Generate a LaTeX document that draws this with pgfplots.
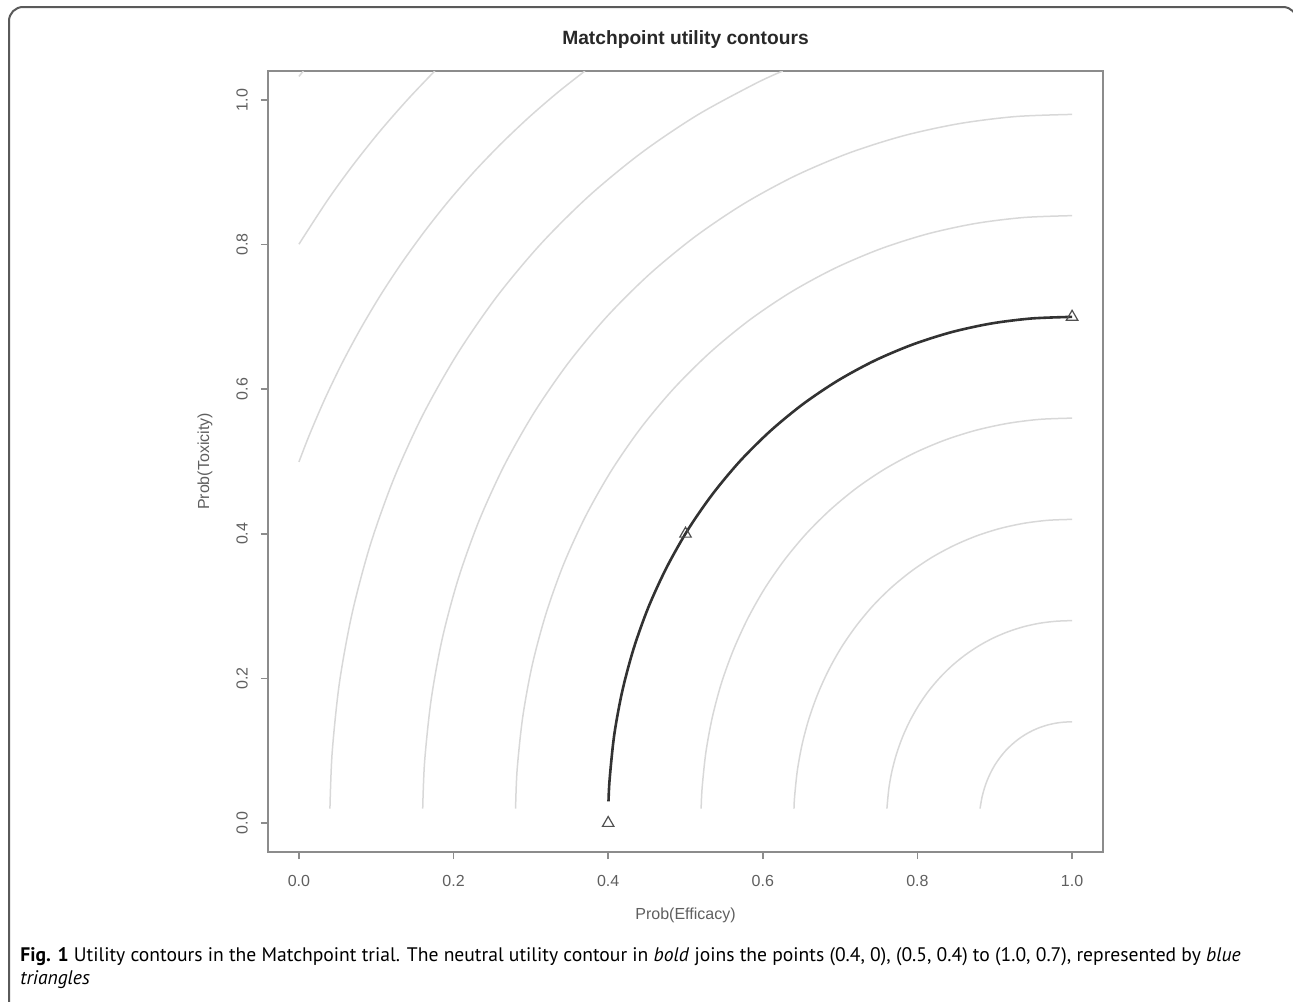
\documentclass[border=0pt]{standalone}
\usepackage{fontspec}
\setmainfont{Liberation Sans}
\newfontfamily\capfont{PT Sans}
\usepackage{pgfplots}
\pgfplotsset{compat=1.18}

\definecolor{contourgray}{RGB}{216,216,216}
\definecolor{boldline}{RGB}{50,50,50}
\definecolor{axisgray}{RGB}{140,140,140}
\definecolor{labelgray}{RGB}{95,95,95}
\definecolor{framegray}{RGB}{90,90,90}

\pgfplotsset{
  contour/.style={contourgray, line width=0.75pt, smooth, no marks},
}

\begin{document}
\begin{tikzpicture}[x=0.5pt,y=-0.5pt]
\useasboundingbox (0,0) rectangle (1293,1001);
% figure frame (open on the right and bottom)
\draw[framegray, line width=1pt, rounded corners=7pt] (9,1010) -- (9,7) -- (1297,7) -- (1297,1010);

\begin{axis}[
  at={(134pt,-426pt)}, anchor=south west,
  scale only axis, width=417.5pt, height=390.5pt,
  xmin=-0.04, xmax=1.04, ymin=-0.04, ymax=1.04,
  axis line style={axisgray, line width=0.9pt},
  tick style={axisgray, line width=0.8pt},
  tick align=outside, major tick length=3.6pt,
  xtick={0,0.2,0.4,0.6,0.8,1.0}, ytick={0,0.2,0.4,0.6,0.8,1.0},
  xtick pos=left, ytick pos=left,
  xticklabel shift=4.5pt, yticklabel shift=3pt,
  /pgf/number format/assume math mode=true,
  x tick label style={/pgf/number format/fixed, /pgf/number format/fixed zerofill,
    /pgf/number format/precision=1, font=\fontsize{8}{9.6}\selectfont, text=labelgray},
  y tick label style={/pgf/number format/fixed, /pgf/number format/fixed zerofill,
    /pgf/number format/precision=1, font=\fontsize{8}{9.6}\selectfont, text=labelgray,
    rotate=90, anchor=south},
  title={Matchpoint utility contours},
  title style={font=\bfseries\fontsize{9.6}{11}\selectfont, text={rgb,255:red,40;green,40;blue,40},
    at={(axis description cs:0.5,1.0244)}, anchor=center},
  xlabel={Prob(Efficacy)},
  xlabel style={font=\fontsize{8}{9.6}\selectfont, text=labelgray,
    at={(axis description cs:0.5,-0.0807)}, anchor=center},
  ylabel={Prob(Toxicity)},
  ylabel style={font=\fontsize{8}{9.6}\selectfont, text=labelgray,
    at={(axis description cs:-0.0754,0.5)}, anchor=center},
]
% grey utility contours, r = 0.2 ... 2.2
\addplot[contour] coordinates {(0.8810,0.0200) (0.8816,0.0244) (0.8836,0.0364) (0.8866,0.0482) (0.8904,0.0596) (0.8951,0.0707) (0.9006,0.0812) (0.9070,0.0910) (0.9141,0.1002) (0.9220,0.1085) (0.9304,0.1159) (0.9394,0.1224) (0.9489,0.1279) (0.9587,0.1324) (0.9688,0.1358) (0.9791,0.1382) (0.9895,0.1396) (1.0000,0.1400)};
\addplot[contour] coordinates {(0.7605,0.0200) (0.7631,0.0487) (0.7672,0.0728) (0.7731,0.0963) (0.7808,0.1193) (0.7902,0.1413) (0.8013,0.1623) (0.8140,0.1821) (0.8283,0.2003) (0.8440,0.2170) (0.8609,0.2318) (0.8789,0.2448) (0.8978,0.2558) (0.9174,0.2647) (0.9376,0.2716) (0.9582,0.2764) (0.9791,0.2791) (1.0000,0.2800)};
\addplot[contour] coordinates {(0.6403,0.0200) (0.6411,0.0366) (0.6447,0.0731) (0.6509,0.1092) (0.6597,0.1445) (0.6712,0.1789) (0.6853,0.2120) (0.7019,0.2435) (0.7211,0.2731) (0.7424,0.3005) (0.7659,0.3254) (0.7913,0.3477) (0.8183,0.3672) (0.8467,0.3836) (0.8761,0.3970) (0.9064,0.4073) (0.9374,0.4145) (0.9686,0.4187) (1.0000,0.4200)};
\addplot[contour] coordinates {(0.5202,0.0200) (0.5215,0.0488) (0.5263,0.0975) (0.5345,0.1455) (0.5462,0.1927) (0.5616,0.2385) (0.5804,0.2827) (0.6026,0.3247) (0.6281,0.3641) (0.6566,0.4007) (0.6879,0.4339) (0.7217,0.4637) (0.7577,0.4896) (0.7955,0.5115) (0.8349,0.5294) (0.8753,0.5431) (0.9165,0.5527) (0.9581,0.5583) (1.0000,0.5600)};
\addplot[contour] coordinates {(0.2802,0.0200) (0.2822,0.0733) (0.2894,0.1462) (0.3017,0.2183) (0.3194,0.2890) (0.3423,0.3578) (0.3706,0.4240) (0.4039,0.4870) (0.4421,0.5462) (0.4849,0.6010) (0.5319,0.6509) (0.5826,0.6955) (0.6366,0.7344) (0.6933,0.7673) (0.7523,0.7941) (0.8129,0.8147) (0.8747,0.8291) (0.9372,0.8374) (1.0000,0.8400)};
\addplot[contour] coordinates {(0.1601,0.0200) (0.1626,0.0855) (0.1710,0.1706) (0.1853,0.2547) (0.2059,0.3372) (0.2327,0.4174) (0.2656,0.4947) (0.3045,0.5682) (0.3491,0.6372) (0.3990,0.7012) (0.4538,0.7594) (0.5130,0.8114) (0.5760,0.8568) (0.6422,0.8952) (0.7110,0.9264) (0.7817,0.9504) (0.8538,0.9672) (0.9267,0.9770) (1.0000,0.9800)};
\addplot[contour] coordinates {(0.0401,0.0200) (0.0430,0.0977) (0.0525,0.1949) (0.0690,0.2911) (0.0925,0.3854) (0.1231,0.4771) (0.1607,0.5653) (0.2052,0.6493) (0.2561,0.7282) (0.3132,0.8013) (0.3758,0.8678) (0.4435,0.9273) (0.5155,0.9792) (0.5911,1.0230) (0.6258,1.0400)};
\addplot[contour] coordinates {(0.0000,0.4994) (0.0135,0.5367) (0.0337,0.5869) (0.0558,0.6360) (0.0799,0.6839) (0.1058,0.7305) (0.1336,0.7756) (0.1632,0.8192) (0.1944,0.8612) (0.2273,0.9015) (0.2618,0.9398) (0.2978,0.9763) (0.3352,1.0108) (0.3699,1.0400)};
\addplot[contour] coordinates {(0.0000,0.8005) (0.0373,0.8618) (0.0702,0.9103) (0.1049,0.9569) (0.1415,1.0016) (0.1757,1.0400)};
\addplot[contour] coordinates {(0.0000,1.0325) (0.0057,1.0400)};
% neutral contour
\addplot[boldline, line width=1.3pt, smooth, no marks] coordinates {(0.4004,0.0300) (0.4019,0.0611) (0.4078,0.1218) (0.4181,0.1819) (0.4328,0.2409) (0.4519,0.2982) (0.4755,0.3533) (0.5032,0.4058) (0.5351,0.4551) (0.5707,0.5008) (0.6099,0.5424) (0.6522,0.5796) (0.6972,0.6120) (0.7444,0.6394) (0.7936,0.6617) (0.8441,0.6789) (0.8956,0.6909) (0.9477,0.6978) (1.0000,0.7000)};
% points defining the neutral contour
\addplot[only marks, mark=triangle, mark size=3.3pt, mark options={draw={rgb,255:red,80;green,80;blue,80}, line width=0.6pt}] coordinates {(0.4,0) (0.5,0.4) (1.0,0.7)};
\end{axis}

\node[anchor=base west, inner sep=0pt, font=\capfont\fontsize{9.8}{12}\selectfont] at (20,961)
  {\textbf{Fig. 1} Utility contours in the Matchpoint trial. The neutral utility contour in \textit{bold} joins the points (0.4, 0), (0.5, 0.4) to (1.0, 0.7), represented by \textit{blue}};
\node[anchor=base west, inner sep=0pt, font=\capfont\fontsize{9.8}{12}\selectfont] at (20,984)
  {\textit{triangles}};
\end{tikzpicture}
\end{document}
